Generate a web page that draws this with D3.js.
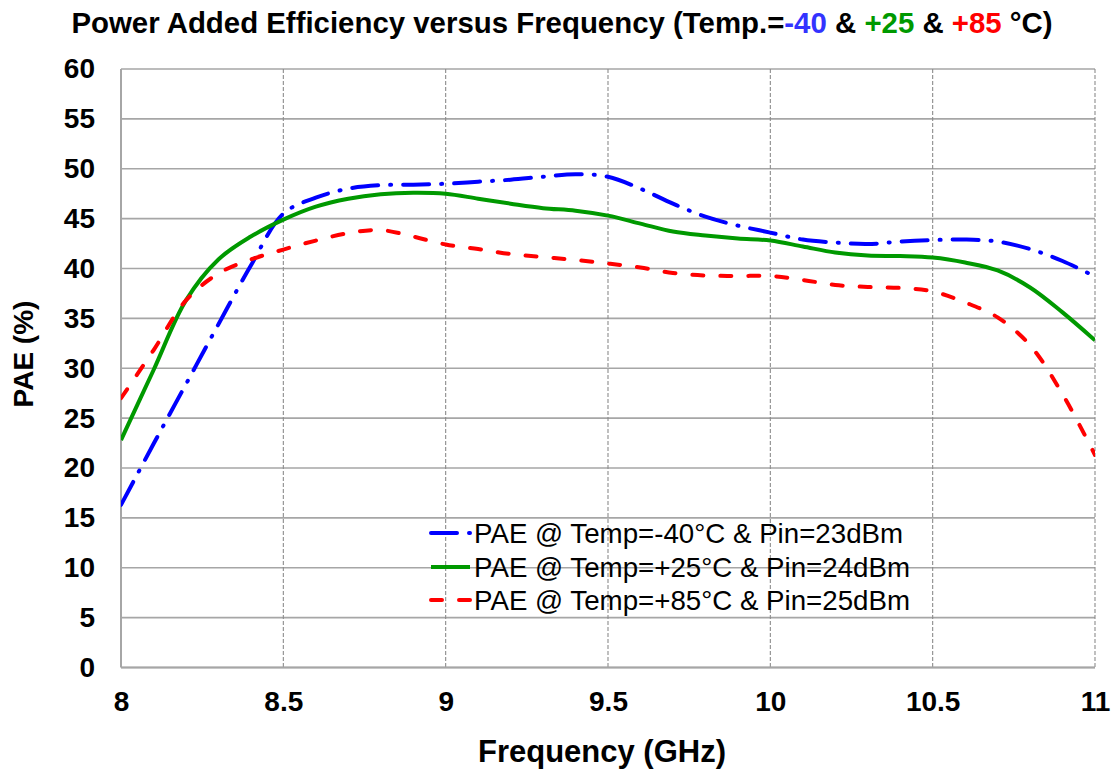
<!DOCTYPE html>
<html>
<head>
<meta charset="utf-8">
<script src="https://cdn.jsdelivr.net/npm/d3@7/dist/d3.min.js"></script>
<style>
  html, body { margin: 0; padding: 0; background: #fff; }
  svg { display: block; }
  text { font-family: "Liberation Sans", Arial, sans-serif; }
</style>
</head>
<body>
<svg id="chart" width="1119" height="774"></svg>
<script>
// ---- Data ----
const freq = [8.0, 8.1, 8.2, 8.3, 8.4, 8.5, 8.6, 8.7, 8.8, 8.9, 9.0, 9.1, 9.2, 9.3, 9.4, 9.5,
              9.6, 9.7, 9.8, 9.9, 10.0, 10.1, 10.2, 10.3, 10.4, 10.5, 10.6, 10.7, 10.8, 10.9, 11.0];
const paeM40 = [16.3, 22.4, 28.4, 34.4, 40.3, 45.5, 47.1, 48.0, 48.35, 48.4, 48.5, 48.7, 48.9, 49.2, 49.45, 49.2,
                48.0, 46.5, 45.2, 44.3, 43.6, 42.9, 42.6, 42.45, 42.7, 42.85, 42.9, 42.7, 41.95, 40.75, 39.2];
const paeP25 = [22.8, 29.8, 36.8, 40.9, 43.2, 44.9, 46.2, 47.0, 47.45, 47.6, 47.5, 47.0, 46.5, 46.05, 45.8, 45.3,
                44.5, 43.7, 43.3, 43.0, 42.8, 42.2, 41.6, 41.3, 41.25, 41.1, 40.6, 39.8, 38.1, 35.6, 32.8];
const paeP85 = [27.0, 31.8, 36.8, 39.5, 40.9, 41.9, 42.8, 43.55, 43.85, 43.2, 42.4, 41.95, 41.45, 41.15, 40.85, 40.5,
                40.1, 39.55, 39.3, 39.25, 39.25, 38.85, 38.35, 38.15, 38.05, 37.7, 36.6, 35.1, 32.3, 27.4, 21.3];
const xTicks = [8, 8.5, 9, 9.5, 10, 10.5, 11];
const xTickLabels = ["8", "8.5", "9", "9.5", "10", "10.5", "11"];
const yTicks = [0, 5, 10, 15, 20, 25, 30, 35, 40, 45, 50, 55, 60];
const seriesNames = ["PAE @ Temp=-40°C & Pin=23dBm", "PAE @ Temp=+25°C & Pin=24dBm", "PAE @ Temp=+85°C & Pin=25dBm"];
const titleParts = [
  {t: "Power Added Efficiency versus Frequency (Temp.=", c: "#000"},
  {t: "-40", c: "#3333ff"},
  {t: " & ", c: "#000"},
  {t: "+25", c: "#009900"},
  {t: " & ", c: "#000"},
  {t: "+85", c: "#ff0000"},
  {t: " °C)", c: "#000"}
];

// ---- Layout ----
const svg = d3.select("#chart");
const L = 121, R = 1095, T = 69, B = 667.5;
const x = d3.scaleLinear().domain([8, 11]).range([L, R]);
const y = d3.scaleLinear().domain([0, 60]).range([B, T]);

const styles = [
  {color: "#0000ff", dash: "26,12,1,12"},
  {color: "#009900", dash: null},
  {color: "#ff0000", dash: "11,17"}
];
const series = [paeM40, paeP25, paeP85];

// horizontal gridlines (solid)
svg.append("g").selectAll("line").data(yTicks).join("line")
  .attr("x1", L).attr("x2", R)
  .attr("y1", d => y(d)).attr("y2", d => y(d))
  .attr("stroke", "#a6a6a6").attr("stroke-width", 1.6);

// vertical gridlines (dashed)
svg.append("g").selectAll("line").data(xTicks.slice(1)).join("line")
  .attr("x1", d => x(d)).attr("x2", d => x(d))
  .attr("y1", T).attr("y2", B)
  .attr("stroke", "#8c8c8c").attr("stroke-width", 1.1)
  .attr("stroke-dasharray", "4,2");

// axes lines
svg.append("line").attr("x1", L).attr("x2", L).attr("y1", T).attr("y2", B)
  .attr("stroke", "#a6a6a6").attr("stroke-width", 2);
svg.append("line").attr("x1", L).attr("x2", R).attr("y1", B).attr("y2", B)
  .attr("stroke", "#a6a6a6").attr("stroke-width", 2);

// y tick labels
const yAxis = d3.axisLeft(y).tickValues(yTicks).tickSize(0).tickPadding(26);
const gy = svg.append("g").attr("transform", `translate(${L},0)`).call(yAxis);
gy.select(".domain").remove();
gy.selectAll("text").attr("font-size", 28).attr("font-weight", "bold")
  .attr("font-family", "Liberation Sans, Arial, sans-serif").attr("fill", "#000");

// x tick labels
const xAxis = d3.axisBottom(x).tickValues(xTicks).tickSize(0).tickPadding(24)
  .tickFormat((d, i) => xTickLabels[i]);
const gx = svg.append("g").attr("transform", `translate(0,${B})`).call(xAxis);
gx.select(".domain").remove();
gx.selectAll("text").attr("font-size", 28).attr("font-weight", "bold")
  .attr("font-family", "Liberation Sans, Arial, sans-serif").attr("fill", "#000");

// lines
svg.append("clipPath").attr("id", "clip").append("rect")
  .attr("x", L).attr("y", T - 5).attr("width", R - L).attr("height", B - T + 5);
const lineGen = d3.line().x(d => x(d[0])).y(d => y(d[1])).curve(d3.curveCatmullRom.alpha(0.5));
series.forEach((vals, i) => {
  const pts = freq.map((f, j) => [f, vals[j]]);
  svg.append("path").datum(pts)
    .attr("d", lineGen)
    .attr("fill", "none")
    .attr("stroke", styles[i].color)
    .attr("stroke-width", 4)
    .attr("stroke-linecap", styles[i].dash ? "round" : "butt")
    .attr("stroke-dasharray", styles[i].dash)
    .attr("clip-path", "url(#clip)");
});

// legend
const legY = [533, 567, 600];
seriesNames.forEach((name, i) => {
  svg.append("line").attr("x1", 431).attr("x2", 470)
    .attr("y1", legY[i]).attr("y2", legY[i])
    .attr("stroke", styles[i].color).attr("stroke-width", 4)
    .attr("stroke-linecap", styles[i].dash ? "round" : "butt")
    .attr("stroke-dasharray", styles[i].dash);
  svg.append("text").attr("x", 474).attr("y", legY[i])
    .attr("dy", "0.36em")
    .attr("font-size", 27.7).attr("fill", "#000")
    .text(name);
});

// title
const title = svg.append("text").attr("x", 562).attr("y", 33)
  .attr("text-anchor", "middle").attr("font-size", 29.4).attr("font-weight", "bold");
titleParts.forEach(p => title.append("tspan").attr("fill", p.c).text(p.t));

// axis titles
svg.append("text").attr("x", 602).attr("y", 762)
  .attr("text-anchor", "middle").attr("font-size", 31).attr("font-weight", "bold")
  .text("Frequency (GHz)");
svg.append("text").attr("transform", "translate(33,354) rotate(-90)")
  .attr("text-anchor", "middle").attr("font-size", 28).attr("font-weight", "bold")
  .text("PAE (%)");
</script>
</body>
</html>
